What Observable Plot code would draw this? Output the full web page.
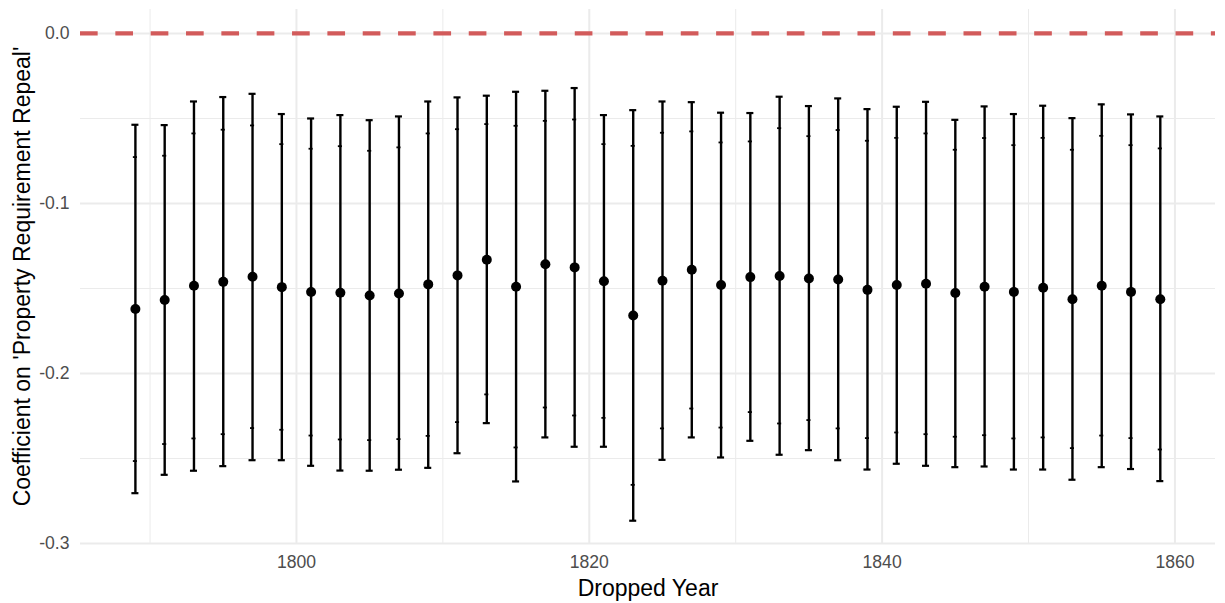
<!DOCTYPE html>
<html>
<head>
<meta charset="utf-8">
<script src="https://cdn.jsdelivr.net/npm/d3@7"></script>
<script src="https://cdn.jsdelivr.net/npm/@observablehq/plot@0.6"></script>
<style>
  html, body { margin: 0; padding: 0; background: #ffffff; }
  #chart { width: 1225px; height: 603px; }
</style>
</head>
<body>
<div id="chart"></div>
<script>
const years = [1789, 1791, 1793, 1795, 1797, 1799, 1801, 1803, 1805, 1807, 1809, 1811,
  1813, 1815, 1817, 1819, 1821, 1823, 1825, 1827, 1829, 1831, 1833, 1835,
  1837, 1839, 1841, 1843, 1845, 1847, 1849, 1851, 1853, 1855, 1857, 1859];
const estimate = [-0.1621, -0.1568, -0.1484, -0.1461, -0.1431, -0.1492, -0.1521, -0.1525, -0.1541, -0.1529, -0.1476, -0.1423,
  -0.1331, -0.1490, -0.1357, -0.1376, -0.1457, -0.1659, -0.1455, -0.1390, -0.1480, -0.1433, -0.1427, -0.1441,
  -0.1447, -0.1508, -0.1480, -0.1472, -0.1527, -0.1490, -0.1520, -0.1496, -0.1563, -0.1484, -0.1520, -0.1563];
const upper95 = [-0.0537, -0.0539, -0.0400, -0.0374, -0.0355, -0.0474, -0.0500, -0.0480, -0.0510, -0.0488, -0.0400, -0.0376,
  -0.0366, -0.0343, -0.0337, -0.0321, -0.0480, -0.0451, -0.0400, -0.0404, -0.0466, -0.0468, -0.0372, -0.0427,
  -0.0382, -0.0445, -0.0431, -0.0402, -0.0508, -0.0429, -0.0474, -0.0425, -0.0498, -0.0417, -0.0476, -0.0488];
const upper90 = [-0.0727, -0.0719, -0.0588, -0.0566, -0.0541, -0.0651, -0.0678, -0.0663, -0.0690, -0.0670, -0.0588, -0.0563,
  -0.0533, -0.0543, -0.0514, -0.0506, -0.0651, -0.0661, -0.0584, -0.0576, -0.0641, -0.0635, -0.0557, -0.0604,
  -0.0568, -0.0631, -0.0614, -0.0588, -0.0684, -0.0615, -0.0657, -0.0614, -0.0684, -0.0602, -0.0657, -0.0676];
const lower90 = [-0.2515, -0.2415, -0.2382, -0.2357, -0.2321, -0.2331, -0.2365, -0.2388, -0.2392, -0.2386, -0.2367, -0.2286,
  -0.2123, -0.2435, -0.2200, -0.2247, -0.2261, -0.2655, -0.2323, -0.2206, -0.2318, -0.2227, -0.2294, -0.2274,
  -0.2323, -0.2380, -0.2347, -0.2357, -0.2372, -0.2363, -0.2382, -0.2376, -0.2439, -0.2365, -0.2380, -0.2447];
const lower95 = [-0.2704, -0.2596, -0.2572, -0.2545, -0.2510, -0.2510, -0.2543, -0.2571, -0.2572, -0.2566, -0.2555, -0.2469,
  -0.2292, -0.2635, -0.2376, -0.2431, -0.2431, -0.2866, -0.2508, -0.2376, -0.2494, -0.2396, -0.2478, -0.2451,
  -0.2510, -0.2565, -0.2531, -0.2543, -0.2551, -0.2547, -0.2565, -0.2565, -0.2625, -0.2551, -0.2562, -0.2633];

const xMajor = [1800, 1820, 1840, 1860];
const xMinor = [1790, 1810, 1830, 1850];
const yMajor = [0, -0.1, -0.2, -0.3];
const yMinor = [-0.05, -0.15, -0.25];

const data = years.map((year, i) => ({
  year, est: estimate[i], hi95: upper95[i], lo95: lower95[i], hi90: upper90[i], lo90: lower90[i]
}));

const capHalf = 0.24;
const tickHalf = 0.14;

const chart = Plot.plot({
  width: 1225,
  height: 603,
  marginLeft: 80,
  marginRight: 10,
  marginTop: 9,
  marginBottom: 60,
  style: { fontFamily: "'Liberation Sans', Arial, sans-serif", background: "#ffffff" },
  x: { domain: [1785.25, 1862.77] },
  y: { domain: [-0.3, 0.0141] },
  marks: [
    Plot.gridX(xMinor, { stroke: "#ebebeb", strokeOpacity: 1, strokeWidth: 1 }),
    Plot.gridY(yMinor, { stroke: "#ebebeb", strokeOpacity: 1, strokeWidth: 1 }),
    Plot.gridX(xMajor, { stroke: "#ebebeb", strokeOpacity: 1, strokeWidth: 2 }),
    Plot.gridY(yMajor, { stroke: "#ebebeb", strokeOpacity: 1, strokeWidth: 2 }),
    Plot.axisX(xMajor, { tickSize: 0, tickPadding: 12, label: null, fontSize: 17.6, color: "#4d4d4d", tickFormat: d => String(d) }),
    Plot.axisY(yMajor, { tickSize: 0, tickPadding: 11, label: null, fontSize: 17.6, color: "#4d4d4d", tickFormat: d => d.toFixed(1) }),
    Plot.ruleY([0], { stroke: "#d25b5b", strokeWidth: 4.3, strokeDasharray: "17.67,17.67" }),
    Plot.ruleX(data, { x: "year", y1: "lo95", y2: "hi95", stroke: "#000", strokeWidth: 2.4 }),
    Plot.ruleY(data, { y: "hi95", x1: d => d.year - capHalf, x2: d => d.year + capHalf, stroke: "#000", strokeWidth: 2.2 }),
    Plot.ruleY(data, { y: "lo95", x1: d => d.year - capHalf, x2: d => d.year + capHalf, stroke: "#000", strokeWidth: 2.2 }),
    Plot.ruleY(data, { y: "hi90", x1: d => d.year - tickHalf, x2: d => d.year + tickHalf, stroke: "#000", strokeWidth: 1.8 }),
    Plot.ruleY(data, { y: "lo90", x1: d => d.year - tickHalf, x2: d => d.year + tickHalf, stroke: "#000", strokeWidth: 1.8 }),
    Plot.dot(data, { x: "year", y: "est", r: 5, fill: "#000", stroke: "none" }),
    Plot.text(["Dropped Year"], { frameAnchor: "bottom", textAnchor: "middle", dy: 52, fontSize: 23, fill: "#000" }),
    Plot.text(["Coefficient on 'Property Requirement Repeal'"], { frameAnchor: "left", textAnchor: "middle", dx: -57.5, rotate: -90, fontSize: 23, fill: "#000" })
  ]
});

document.getElementById("chart").appendChild(chart);
</script>
</body>
</html>
